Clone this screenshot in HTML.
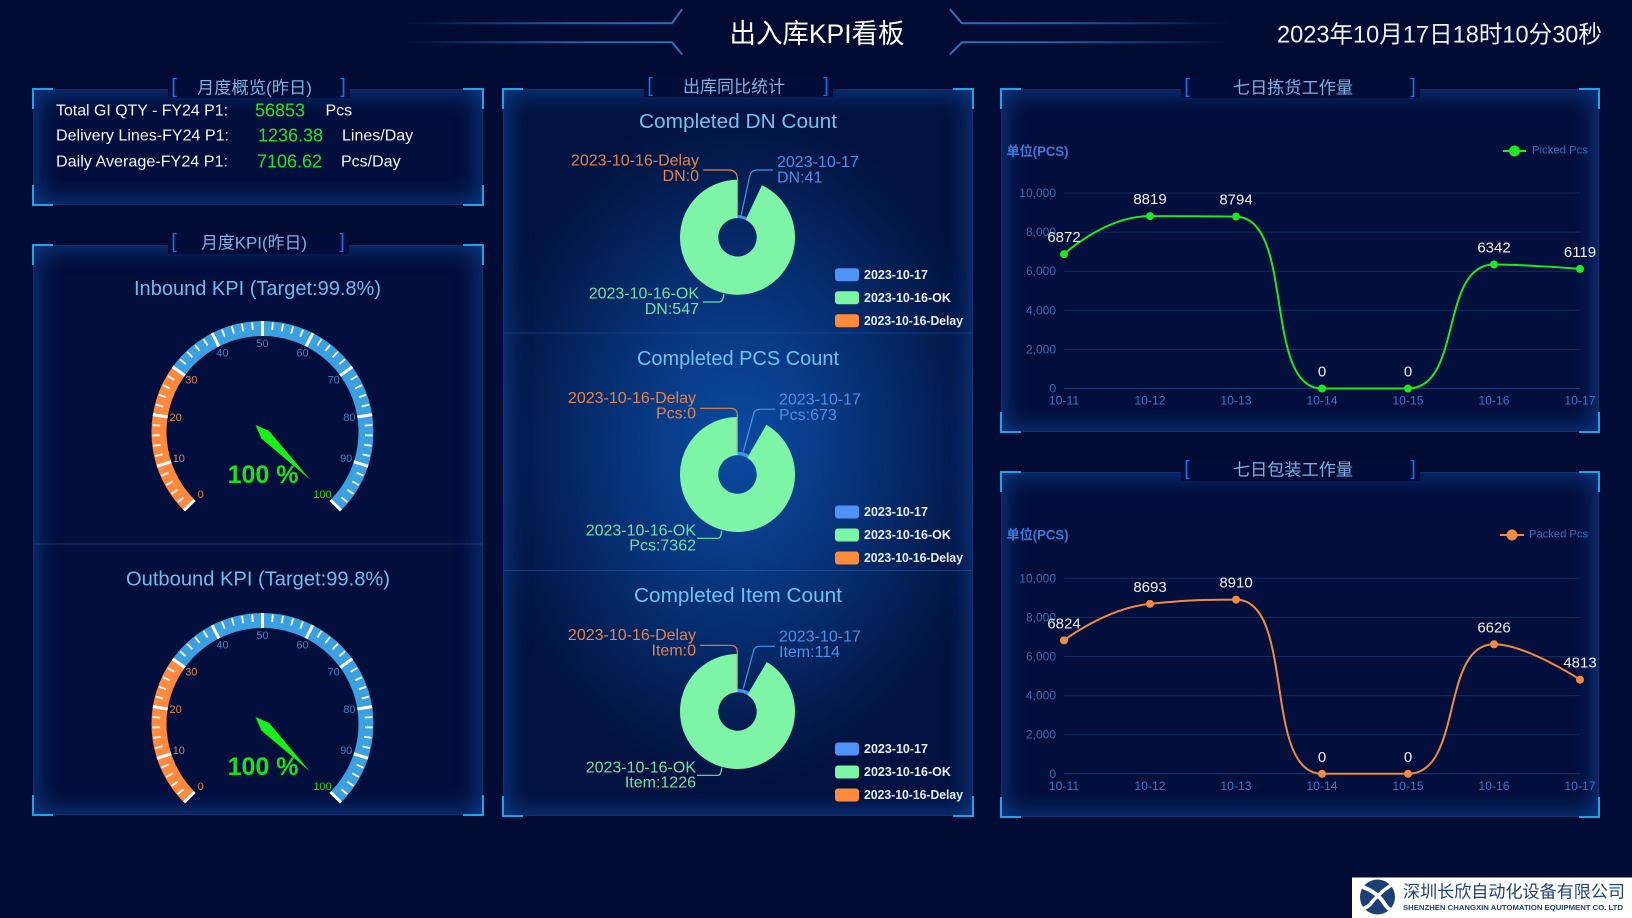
<!DOCTYPE html>
<html><head><meta charset="utf-8">
<style>
html,body{margin:0;padding:0;width:1632px;height:918px;overflow:hidden;background:#010b34;}
.p{position:absolute;box-sizing:border-box;border:1px solid rgba(40,110,200,0.35);box-shadow:inset 0 0 24px 2px rgba(25,105,215,0.5);background:#020e3c;}
svg{position:absolute;left:0;top:0;}
text{dominant-baseline:central;font-family:"Liberation Sans","Noto Sans CJK SC",sans-serif;}
</style></head><body>
<div class="p" style="left:33px;top:89px;width:450px;height:116px"></div>
<div class="p" style="left:33px;top:245px;width:450px;height:570px"></div>
<div class="p" style="left:503px;top:89px;width:470px;height:727px;background:radial-gradient(ellipse 260px 340px at 50% 49%,#0a4aa0 0%,#083c88 30%,#052a6a 60%,#031a4c 85%,#021240 100%)"></div>
<div class="p" style="left:1001px;top:89px;width:598px;height:343px"></div>
<div class="p" style="left:1001px;top:472px;width:598px;height:345px"></div>
<svg width="1632" height="918" viewBox="0 0 1632 918">
<defs>
<linearGradient id="hl" gradientUnits="userSpaceOnUse" x1="401" y1="0" x2="682" y2="0"><stop offset="0" stop-color="#24609c" stop-opacity="0"/><stop offset="0.6" stop-color="#24609c"/><stop offset="1" stop-color="#2e72b8"/></linearGradient>
<linearGradient id="hr" gradientUnits="userSpaceOnUse" x1="1233" y1="0" x2="950" y2="0"><stop offset="0" stop-color="#24609c" stop-opacity="0"/><stop offset="0.6" stop-color="#24609c"/><stop offset="1" stop-color="#2e72b8"/></linearGradient>
</defs>

<!-- header -->
<path d="M401,23.3 L672,23.3 L682,9.3 M401,42.3 L672,42.3 L682,54.3" fill="none" stroke="url(#hl)" stroke-width="2"/>
<path d="M1233,23.3 L962,23.3 L950,9.3 M1233,42.3 L962,42.3 L950,54.3" fill="none" stroke="url(#hr)" stroke-width="2"/>
<text x="817" y="34" text-anchor="middle" font-size="27" fill="#ffffff" textLength="175" lengthAdjust="spacingAndGlyphs">出入库KPI看板</text>
<text x="1277" y="35" font-size="24" fill="#eef3fa" textLength="325" lengthAdjust="spacingAndGlyphs">2023年10月17日18时10分30秒</text>

<!-- panel corners -->
<g fill="none" stroke="#20a2e6" stroke-width="2">
<path d="M33,109 L33,89 L53,89 M463,89 L483,89 L483,109 M33,185 L33,205 L53,205 M463,205 L483,205 L483,185"/>
<path d="M33,265 L33,245 L53,245 M463,245 L483,245 L483,265 M33,795 L33,815 L53,815 M463,815 L483,815 L483,795"/>
<path d="M503,109 L503,89 L523,89 M953,89 L973,89 L973,109 M503,796 L503,816 L523,816 M953,816 L973,816 L973,796"/>
<path d="M1001,109 L1001,89 L1021,89 M1579,89 L1599,89 L1599,109 M1001,412 L1001,432 L1021,432 M1579,432 L1599,432 L1599,412"/>
<path d="M1001,492 L1001,472 L1021,472 M1579,472 L1599,472 L1599,492 M1001,797 L1001,817 L1021,817 M1579,817 L1599,817 L1599,797"/>
</g>

<!-- title bars -->
<g fill="#020c38">
<rect x="168" y="78" width="182" height="20"/>
<rect x="168" y="234" width="181" height="20"/>
<rect x="644" y="77" width="189" height="20"/>
<rect x="1181" y="78" width="239" height="20"/>
<rect x="1181" y="461" width="239" height="20"/>
</g>
<g font-size="20" fill="#1a6ee8" text-anchor="middle">
<text x="174" y="87">[</text><text x="343" y="87">]</text>
<text x="174" y="242">[</text><text x="342" y="242">]</text>
<text x="650" y="86">[</text><text x="826" y="86">]</text>
<text x="1187" y="87">[</text><text x="1413" y="87">]</text>
<text x="1187" y="469">[</text><text x="1413" y="469">]</text>
</g>
<g font-size="17" fill="#7fb0e0" text-anchor="middle">
<text x="254.5" y="88" textLength="115" lengthAdjust="spacingAndGlyphs">月度概览(昨日)</text>
<text x="254" y="243" textLength="106" lengthAdjust="spacingAndGlyphs">月度KPI(昨日)</text>
<text x="734" y="87" textLength="102" lengthAdjust="spacingAndGlyphs">出库同比统计</text>
<text x="1293" y="88" textLength="120" lengthAdjust="spacingAndGlyphs">七日拣货工作量</text>
<text x="1293" y="470" textLength="120" lengthAdjust="spacingAndGlyphs">七日包装工作量</text>
</g>

<!-- panel 1 -->
<g font-size="16" fill="#f2f5fa">
<text x="56" y="111" textLength="172" lengthAdjust="spacingAndGlyphs">Total GI QTY - FY24 P1:</text>
<text x="56" y="136" textLength="173" lengthAdjust="spacingAndGlyphs">Delivery Lines-FY24 P1:</text>
<text x="56" y="162" textLength="172" lengthAdjust="spacingAndGlyphs">Daily Average-FY24 P1:</text>
<text x="325.5" y="111">Pcs</text>
<text x="342" y="136">Lines/Day</text>
<text x="341" y="162">Pcs/Day</text>
</g>
<g font-size="18" fill="#22e622">
<text x="255" y="110.5">56853</text>
<text x="258" y="135.5">1236.38</text>
<text x="257" y="161.5">7106.62</text>
</g>

<!-- panel 2 -->
<line x1="34" y1="544" x2="482" y2="544" stroke="rgba(50,110,190,0.35)" stroke-width="1"/>
<text x="257.5" y="289" text-anchor="middle" font-size="20" fill="#6dbdee" textLength="247" lengthAdjust="spacingAndGlyphs">Inbound KPI (Target:99.8%)</text>
<text x="258" y="579.3" text-anchor="middle" font-size="20" fill="#6dbdee" textLength="264" lengthAdjust="spacingAndGlyphs">Outbound KPI (Target:99.8%)</text>

<g transform="translate(262.5,432)">
<path d="M-73.19,73.19 A103.5,103.5 0 0 1 -83.73,-60.84" fill="none" stroke="#ff8a3d" stroke-width="15"/>
<path d="M-83.73,-60.84 A103.5,103.5 0 1 1 73.19,73.19" fill="none" stroke="#3aa0e0" stroke-width="15"/>
<g stroke="#ffffff" stroke-width="3">
<line x1="96" y1="0" x2="111" y2="0" transform="rotate(-225)"/><line x1="96" y1="0" x2="111" y2="0" transform="rotate(-198)"/><line x1="96" y1="0" x2="111" y2="0" transform="rotate(-171)"/><line x1="96" y1="0" x2="111" y2="0" transform="rotate(-144)"/><line x1="96" y1="0" x2="111" y2="0" transform="rotate(-117)"/><line x1="96" y1="0" x2="111" y2="0" transform="rotate(-90)"/><line x1="96" y1="0" x2="111" y2="0" transform="rotate(-63)"/><line x1="96" y1="0" x2="111" y2="0" transform="rotate(-36)"/><line x1="96" y1="0" x2="111" y2="0" transform="rotate(-9)"/><line x1="96" y1="0" x2="111" y2="0" transform="rotate(18)"/><line x1="96" y1="0" x2="111" y2="0" transform="rotate(45)"/>
</g>
<g stroke="#ffffff" stroke-width="1.8">
<line x1="102.5" y1="0" x2="110" y2="0" transform="rotate(-219.6)"/><line x1="102.5" y1="0" x2="110" y2="0" transform="rotate(-214.2)"/><line x1="102.5" y1="0" x2="110" y2="0" transform="rotate(-208.8)"/><line x1="102.5" y1="0" x2="110" y2="0" transform="rotate(-203.4)"/>
<line x1="102.5" y1="0" x2="110" y2="0" transform="rotate(-192.6)"/><line x1="102.5" y1="0" x2="110" y2="0" transform="rotate(-187.2)"/><line x1="102.5" y1="0" x2="110" y2="0" transform="rotate(-181.8)"/><line x1="102.5" y1="0" x2="110" y2="0" transform="rotate(-176.4)"/>
<line x1="102.5" y1="0" x2="110" y2="0" transform="rotate(-165.6)"/><line x1="102.5" y1="0" x2="110" y2="0" transform="rotate(-160.2)"/><line x1="102.5" y1="0" x2="110" y2="0" transform="rotate(-154.8)"/><line x1="102.5" y1="0" x2="110" y2="0" transform="rotate(-149.4)"/>
<line x1="102.5" y1="0" x2="110" y2="0" transform="rotate(-138.6)"/><line x1="102.5" y1="0" x2="110" y2="0" transform="rotate(-133.2)"/><line x1="102.5" y1="0" x2="110" y2="0" transform="rotate(-127.8)"/><line x1="102.5" y1="0" x2="110" y2="0" transform="rotate(-122.4)"/>
<line x1="102.5" y1="0" x2="110" y2="0" transform="rotate(-111.6)"/><line x1="102.5" y1="0" x2="110" y2="0" transform="rotate(-106.2)"/><line x1="102.5" y1="0" x2="110" y2="0" transform="rotate(-100.8)"/><line x1="102.5" y1="0" x2="110" y2="0" transform="rotate(-95.4)"/>
<line x1="102.5" y1="0" x2="110" y2="0" transform="rotate(-84.6)"/><line x1="102.5" y1="0" x2="110" y2="0" transform="rotate(-79.2)"/><line x1="102.5" y1="0" x2="110" y2="0" transform="rotate(-73.8)"/><line x1="102.5" y1="0" x2="110" y2="0" transform="rotate(-68.4)"/>
<line x1="102.5" y1="0" x2="110" y2="0" transform="rotate(-57.6)"/><line x1="102.5" y1="0" x2="110" y2="0" transform="rotate(-52.2)"/><line x1="102.5" y1="0" x2="110" y2="0" transform="rotate(-46.8)"/><line x1="102.5" y1="0" x2="110" y2="0" transform="rotate(-41.4)"/>
<line x1="102.5" y1="0" x2="110" y2="0" transform="rotate(-30.6)"/><line x1="102.5" y1="0" x2="110" y2="0" transform="rotate(-25.2)"/><line x1="102.5" y1="0" x2="110" y2="0" transform="rotate(-19.8)"/><line x1="102.5" y1="0" x2="110" y2="0" transform="rotate(-14.4)"/>
<line x1="102.5" y1="0" x2="110" y2="0" transform="rotate(-3.6)"/><line x1="102.5" y1="0" x2="110" y2="0" transform="rotate(1.8)"/><line x1="102.5" y1="0" x2="110" y2="0" transform="rotate(7.2)"/><line x1="102.5" y1="0" x2="110" y2="0" transform="rotate(12.6)"/>
<line x1="102.5" y1="0" x2="110" y2="0" transform="rotate(23.4)"/><line x1="102.5" y1="0" x2="110" y2="0" transform="rotate(28.8)"/><line x1="102.5" y1="0" x2="110" y2="0" transform="rotate(34.2)"/><line x1="102.5" y1="0" x2="110" y2="0" transform="rotate(39.6)"/>
</g>
<g font-size="11" text-anchor="middle">
<text x="-62" y="63" fill="#e0844d">0</text><text x="-83.7" y="27.2" fill="#e0844d">10</text><text x="-86.9" y="-13.8" fill="#e0844d">20</text><text x="-71.2" y="-51.7" fill="#e0844d">30</text>
<text x="-40" y="-78.4" fill="#3f82c2">40</text><text x="0" y="-88" fill="#3f82c2">50</text><text x="40" y="-78.4" fill="#3f82c2">60</text><text x="71.2" y="-51.7" fill="#3f82c2">70</text><text x="86.9" y="-13.8" fill="#3f82c2">80</text><text x="83.7" y="27.2" fill="#3f82c2">90</text>
<text x="60" y="63" fill="#1ed81e">100</text>
</g>
<polygon points="-10,0 4,-5.4 67,0 4,5.4" fill="#18f018" transform="rotate(45)"/>
<text x="0.5" y="43" text-anchor="middle" font-size="25" font-weight="bold" fill="#17e317">100 %</text>
</g>

<g transform="translate(262.5,724)">
<path d="M-73.19,73.19 A103.5,103.5 0 0 1 -83.73,-60.84" fill="none" stroke="#ff8a3d" stroke-width="15"/>
<path d="M-83.73,-60.84 A103.5,103.5 0 1 1 73.19,73.19" fill="none" stroke="#3aa0e0" stroke-width="15"/>
<g stroke="#ffffff" stroke-width="3">
<line x1="96" y1="0" x2="111" y2="0" transform="rotate(-225)"/><line x1="96" y1="0" x2="111" y2="0" transform="rotate(-198)"/><line x1="96" y1="0" x2="111" y2="0" transform="rotate(-171)"/><line x1="96" y1="0" x2="111" y2="0" transform="rotate(-144)"/><line x1="96" y1="0" x2="111" y2="0" transform="rotate(-117)"/><line x1="96" y1="0" x2="111" y2="0" transform="rotate(-90)"/><line x1="96" y1="0" x2="111" y2="0" transform="rotate(-63)"/><line x1="96" y1="0" x2="111" y2="0" transform="rotate(-36)"/><line x1="96" y1="0" x2="111" y2="0" transform="rotate(-9)"/><line x1="96" y1="0" x2="111" y2="0" transform="rotate(18)"/><line x1="96" y1="0" x2="111" y2="0" transform="rotate(45)"/>
</g>
<g stroke="#ffffff" stroke-width="1.8">
<line x1="102.5" y1="0" x2="110" y2="0" transform="rotate(-219.6)"/><line x1="102.5" y1="0" x2="110" y2="0" transform="rotate(-214.2)"/><line x1="102.5" y1="0" x2="110" y2="0" transform="rotate(-208.8)"/><line x1="102.5" y1="0" x2="110" y2="0" transform="rotate(-203.4)"/>
<line x1="102.5" y1="0" x2="110" y2="0" transform="rotate(-192.6)"/><line x1="102.5" y1="0" x2="110" y2="0" transform="rotate(-187.2)"/><line x1="102.5" y1="0" x2="110" y2="0" transform="rotate(-181.8)"/><line x1="102.5" y1="0" x2="110" y2="0" transform="rotate(-176.4)"/>
<line x1="102.5" y1="0" x2="110" y2="0" transform="rotate(-165.6)"/><line x1="102.5" y1="0" x2="110" y2="0" transform="rotate(-160.2)"/><line x1="102.5" y1="0" x2="110" y2="0" transform="rotate(-154.8)"/><line x1="102.5" y1="0" x2="110" y2="0" transform="rotate(-149.4)"/>
<line x1="102.5" y1="0" x2="110" y2="0" transform="rotate(-138.6)"/><line x1="102.5" y1="0" x2="110" y2="0" transform="rotate(-133.2)"/><line x1="102.5" y1="0" x2="110" y2="0" transform="rotate(-127.8)"/><line x1="102.5" y1="0" x2="110" y2="0" transform="rotate(-122.4)"/>
<line x1="102.5" y1="0" x2="110" y2="0" transform="rotate(-111.6)"/><line x1="102.5" y1="0" x2="110" y2="0" transform="rotate(-106.2)"/><line x1="102.5" y1="0" x2="110" y2="0" transform="rotate(-100.8)"/><line x1="102.5" y1="0" x2="110" y2="0" transform="rotate(-95.4)"/>
<line x1="102.5" y1="0" x2="110" y2="0" transform="rotate(-84.6)"/><line x1="102.5" y1="0" x2="110" y2="0" transform="rotate(-79.2)"/><line x1="102.5" y1="0" x2="110" y2="0" transform="rotate(-73.8)"/><line x1="102.5" y1="0" x2="110" y2="0" transform="rotate(-68.4)"/>
<line x1="102.5" y1="0" x2="110" y2="0" transform="rotate(-57.6)"/><line x1="102.5" y1="0" x2="110" y2="0" transform="rotate(-52.2)"/><line x1="102.5" y1="0" x2="110" y2="0" transform="rotate(-46.8)"/><line x1="102.5" y1="0" x2="110" y2="0" transform="rotate(-41.4)"/>
<line x1="102.5" y1="0" x2="110" y2="0" transform="rotate(-30.6)"/><line x1="102.5" y1="0" x2="110" y2="0" transform="rotate(-25.2)"/><line x1="102.5" y1="0" x2="110" y2="0" transform="rotate(-19.8)"/><line x1="102.5" y1="0" x2="110" y2="0" transform="rotate(-14.4)"/>
<line x1="102.5" y1="0" x2="110" y2="0" transform="rotate(-3.6)"/><line x1="102.5" y1="0" x2="110" y2="0" transform="rotate(1.8)"/><line x1="102.5" y1="0" x2="110" y2="0" transform="rotate(7.2)"/><line x1="102.5" y1="0" x2="110" y2="0" transform="rotate(12.6)"/>
<line x1="102.5" y1="0" x2="110" y2="0" transform="rotate(23.4)"/><line x1="102.5" y1="0" x2="110" y2="0" transform="rotate(28.8)"/><line x1="102.5" y1="0" x2="110" y2="0" transform="rotate(34.2)"/><line x1="102.5" y1="0" x2="110" y2="0" transform="rotate(39.6)"/>
</g>
<g font-size="11" text-anchor="middle">
<text x="-62" y="63" fill="#e0844d">0</text><text x="-83.7" y="27.2" fill="#e0844d">10</text><text x="-86.9" y="-13.8" fill="#e0844d">20</text><text x="-71.2" y="-51.7" fill="#e0844d">30</text>
<text x="-40" y="-78.4" fill="#3f82c2">40</text><text x="0" y="-88" fill="#3f82c2">50</text><text x="40" y="-78.4" fill="#3f82c2">60</text><text x="71.2" y="-51.7" fill="#3f82c2">70</text><text x="86.9" y="-13.8" fill="#3f82c2">80</text><text x="83.7" y="27.2" fill="#3f82c2">90</text>
<text x="60" y="63" fill="#1ed81e">100</text>
</g>
<polygon points="-10,0 4,-5.4 67,0 4,5.4" fill="#18f018" transform="rotate(45)"/>
<text x="0.5" y="43" text-anchor="middle" font-size="25" font-weight="bold" fill="#17e317">100 %</text>
</g>

<!-- middle panel -->
<g stroke="rgba(60,120,200,0.35)" stroke-width="1">
<line x1="504" y1="333" x2="972" y2="333"/>
<line x1="504" y1="570.5" x2="972" y2="570.5"/>
</g>
<g font-size="20.5" fill="#70c2f0" text-anchor="middle">
<text x="738" y="121.5" textLength="198" lengthAdjust="spacingAndGlyphs">Completed DN Count</text>
<text x="738" y="358.5" textLength="202" lengthAdjust="spacingAndGlyphs">Completed PCS Count</text>
<text x="738" y="595.5" textLength="208" lengthAdjust="spacingAndGlyphs">Completed Item Count</text>
</g>

<!-- donut 1 -->
<path d="M761.89,185.23 A57.5,57.5 0 1 1 737.5,179.8 L737.5,218.1 A19.2,19.2 0 1 0 745.64,219.91 Z" fill="#7df4a6"/>
<path d="M737.5,215.23 A22.07,22.07 0 0 1 746.86,217.31 L745.64,219.91 A19.2,19.2 0 0 0 737.5,218.1 Z" fill="#4a90f0"/>
<g fill="none" stroke-width="1.2">
<path d="M703,170 L729,170 Q737.5,170 737.5,180 L737.5,216" stroke="#e4834a"/>
<path d="M773,170 L757,170 Q751,170 749.5,177 L741,216" stroke="#4f8fe6"/>
<path d="M703,302 L719,302 Q723,302 724,294" stroke="#74e0a2"/>
</g>
<g font-size="16">
<text x="699" y="161" text-anchor="end" fill="#e4834a">2023-10-16-Delay</text>
<text x="699" y="176.5" text-anchor="end" fill="#e4834a">DN:0</text>
<text x="777" y="162.5" fill="#4f8fe6">2023-10-17</text>
<text x="777" y="178" fill="#4f8fe6">DN:41</text>
<text x="699" y="294" text-anchor="end" fill="#74e0a2">2023-10-16-OK</text>
<text x="699" y="309.5" text-anchor="end" fill="#74e0a2">DN:547</text>
</g>

<!-- donut 2 -->
<path d="M766.38,424.78 A57.5,57.5 0 1 1 737.5,417 L737.5,455.3 A19.2,19.2 0 1 0 747.14,457.9 Z" fill="#7df4a6"/>
<path d="M737.5,451.8 A22.7,22.7 0 0 1 748.9,454.87 L747.14,457.9 A19.2,19.2 0 0 0 737.5,455.3 Z" fill="#4a90f0"/>
<g fill="none" stroke-width="1.2">
<path d="M700,408.3 L730,408.3 Q737.3,408.3 737.3,415 L737.3,451.7" stroke="#e4834a"/>
<path d="M775,409.3 L760,409.3 Q754,409.3 753.3,415 L743.3,451.7" stroke="#4f8fe6"/>
<path d="M697,538.3 L718.3,538.3 Q721,538.3 721.7,530.7" stroke="#74e0a2"/>
</g>
<g font-size="16">
<text x="696" y="398.5" text-anchor="end" fill="#e4834a">2023-10-16-Delay</text>
<text x="696" y="414" text-anchor="end" fill="#e4834a">Pcs:0</text>
<text x="779" y="400" fill="#4f8fe6">2023-10-17</text>
<text x="779" y="415.5" fill="#4f8fe6">Pcs:673</text>
<text x="696" y="531" text-anchor="end" fill="#74e0a2">2023-10-16-OK</text>
<text x="696" y="546" text-anchor="end" fill="#74e0a2">Pcs:7362</text>
</g>

<!-- donut 3 -->
<path d="M766.8,662.02 A57.5,57.5 0 1 1 737.5,654 L737.5,692.3 A19.2,19.2 0 1 0 747.28,694.98 Z" fill="#7df4a6"/>
<path d="M737.5,688.74 A22.76,22.76 0 0 1 749.1,691.91 L747.28,694.98 A19.2,19.2 0 0 0 737.5,692.3 Z" fill="#4a90f0"/>
<g fill="none" stroke-width="1.2">
<path d="M700,645.3 L730,645.3 Q737.3,645.3 737.3,652 L737.3,688.7" stroke="#e4834a"/>
<path d="M775,646.3 L760,646.3 Q754,646.3 753.3,652 L743.3,688.7" stroke="#4f8fe6"/>
<path d="M697,775.3 L718.3,775.3 Q721,775.3 721.7,767.7" stroke="#74e0a2"/>
</g>
<g font-size="16">
<text x="696" y="635.5" text-anchor="end" fill="#e4834a">2023-10-16-Delay</text>
<text x="696" y="651" text-anchor="end" fill="#e4834a">Item:0</text>
<text x="779" y="637" fill="#4f8fe6">2023-10-17</text>
<text x="779" y="652.5" fill="#4f8fe6">Item:114</text>
<text x="696" y="768" text-anchor="end" fill="#74e0a2">2023-10-16-OK</text>
<text x="696" y="783" text-anchor="end" fill="#74e0a2">Item:1226</text>
</g>

<!-- donut legends -->
<g>
<rect x="835" y="268.3" width="24" height="13" rx="3" fill="#4f93f7"/>
<rect x="835" y="291.3" width="24" height="13" rx="3" fill="#7cf5a5"/>
<rect x="835" y="314.3" width="24" height="13" rx="3" fill="#ff8a3a"/>
<rect x="835" y="505.5" width="24" height="13" rx="3" fill="#4f93f7"/>
<rect x="835" y="528.5" width="24" height="13" rx="3" fill="#7cf5a5"/>
<rect x="835" y="551.5" width="24" height="13" rx="3" fill="#ff8a3a"/>
<rect x="835" y="742.5" width="24" height="13" rx="3" fill="#4f93f7"/>
<rect x="835" y="765.5" width="24" height="13" rx="3" fill="#7cf5a5"/>
<rect x="835" y="788.5" width="24" height="13" rx="3" fill="#ff8a3a"/>
</g>
<g font-size="12.5" font-weight="bold" fill="#e6edf5">
<text x="864" y="274.8">2023-10-17</text>
<text x="864" y="297.8">2023-10-16-OK</text>
<text x="864" y="320.8" textLength="99" lengthAdjust="spacingAndGlyphs">2023-10-16-Delay</text>
<text x="864" y="512">2023-10-17</text>
<text x="864" y="535">2023-10-16-OK</text>
<text x="864" y="558" textLength="99" lengthAdjust="spacingAndGlyphs">2023-10-16-Delay</text>
<text x="864" y="749">2023-10-17</text>
<text x="864" y="772">2023-10-16-OK</text>
<text x="864" y="795" textLength="99" lengthAdjust="spacingAndGlyphs">2023-10-16-Delay</text>
</g>

<!-- chart 1 -->
<text x="1006.5" y="151.5" font-size="13.5" font-weight="bold" fill="#3a7ad8" textLength="62" lengthAdjust="spacingAndGlyphs">单位(PCS)</text>
<line x1="1503" y1="151" x2="1526" y2="151" stroke="#1ee81e" stroke-width="2"/>
<circle cx="1514.5" cy="151" r="5.5" fill="#1ee81e"/>
<text x="1532" y="150.5" font-size="11.3" fill="#3d6fb5">Picked Pcs</text>
<g transform="translate(0,0.5)">
<g stroke="#102c5e" stroke-width="1">
<line x1="1064" y1="192.5" x2="1580" y2="192.5"/><line x1="1064" y1="231.6" x2="1580" y2="231.6"/><line x1="1064" y1="270.7" x2="1580" y2="270.7"/><line x1="1064" y1="309.8" x2="1580" y2="309.8"/><line x1="1064" y1="348.9" x2="1580" y2="348.9"/><line x1="1064" y1="388" x2="1580" y2="388" stroke="#163a72"/>
</g>
<g font-size="12" fill="#3a6cb0" text-anchor="end">
<text x="1056" y="192.5">10,000</text><text x="1056" y="231.6">8,000</text><text x="1056" y="270.7">6,000</text><text x="1056" y="309.8">4,000</text><text x="1056" y="348.9">2,000</text><text x="1056" y="388">0</text>
</g>
<g font-size="12.2" fill="#3b78c8" text-anchor="middle">
<text x="1064" y="400">10-11</text><text x="1150" y="400">10-12</text><text x="1236" y="400">10-13</text><text x="1322" y="400">10-14</text><text x="1408" y="400">10-15</text><text x="1494" y="400">10-16</text><text x="1580" y="400">10-17</text>
</g>
<path d="M1064,253.65 C1064,253.65 1105.07,215.59 1150,215.59 C1191.08,215.59 1209.42,215.59 1236,216.08 C1295.41,217.18 1262.59,388 1322,388 C1348.58,388 1376.78,388 1408,388 C1462.78,388 1439.26,264.01 1494,264.01 C1525.24,264.01 1580,268.37 1580,268.37" fill="none" stroke="#1ee81e" stroke-width="2"/>
<g fill="#1ee81e">
<circle cx="1064" cy="253.65" r="4"/><circle cx="1150" cy="215.59" r="4"/><circle cx="1236" cy="216.08" r="4"/><circle cx="1322" cy="388" r="4"/><circle cx="1408" cy="388" r="4"/><circle cx="1494" cy="264.01" r="4"/><circle cx="1580" cy="268.37" r="4"/>
</g>
<g font-size="15" fill="#f0f0f0" text-anchor="middle">
<text x="1064" y="237.2">6872</text><text x="1150" y="199.1">8819</text><text x="1236" y="199.6">8794</text><text x="1322" y="371.5">0</text><text x="1408" y="371.5">0</text><text x="1494" y="247.5">6342</text><text x="1580" y="251.9">6119</text>
</g>
</g>

<!-- chart 2 -->
<text x="1006.5" y="535" font-size="13.5" font-weight="bold" fill="#3a7ad8" textLength="62" lengthAdjust="spacingAndGlyphs">单位(PCS)</text>
<line x1="1500" y1="535" x2="1524" y2="535" stroke="#f08a40" stroke-width="2"/>
<circle cx="1512" cy="535" r="5.5" fill="#f08a40"/>
<text x="1529" y="534.5" font-size="11.2" fill="#3d6fb5">Packed Pcs</text>
<g transform="translate(0,1.8)">
<g stroke="#102c5e" stroke-width="1">
<line x1="1064" y1="576.5" x2="1580" y2="576.5"/><line x1="1064" y1="615.6" x2="1580" y2="615.6"/><line x1="1064" y1="654.7" x2="1580" y2="654.7"/><line x1="1064" y1="693.8" x2="1580" y2="693.8"/><line x1="1064" y1="732.9" x2="1580" y2="732.9"/><line x1="1064" y1="772" x2="1580" y2="772" stroke="#163a72"/>
</g>
<g font-size="12" fill="#3a6cb0" text-anchor="end">
<text x="1056" y="576.5">10,000</text><text x="1056" y="615.6">8,000</text><text x="1056" y="654.7">6,000</text><text x="1056" y="693.8">4,000</text><text x="1056" y="732.9">2,000</text><text x="1056" y="772">0</text>
</g>
<g font-size="12.2" fill="#3b78c8" text-anchor="middle">
<text x="1064" y="784">10-11</text><text x="1150" y="784">10-12</text><text x="1236" y="784">10-13</text><text x="1322" y="784">10-14</text><text x="1408" y="784">10-15</text><text x="1494" y="784">10-16</text><text x="1580" y="784">10-17</text>
</g>
<path d="M1064,638.59 C1064,638.59 1105.23,606.65 1150,602.05 C1191.25,597.81 1209.59,597.81 1236,597.81 C1295.59,597.81 1262.39,772 1322,772 C1348.39,772 1377.38,772 1408,772 C1463.36,772 1440.19,642.46 1494,642.46 C1526.19,642.46 1580,677.91 1580,677.91" fill="none" stroke="#f08a40" stroke-width="2"/>
<g fill="#f08a40">
<circle cx="1064" cy="638.59" r="4"/><circle cx="1150" cy="602.05" r="4"/><circle cx="1236" cy="597.81" r="4"/><circle cx="1322" cy="772" r="4"/><circle cx="1408" cy="772" r="4"/><circle cx="1494" cy="642.46" r="4"/><circle cx="1580" cy="677.91" r="4"/>
</g>
<g font-size="15" fill="#f0f0f0" text-anchor="middle">
<text x="1064" y="622.1">6824</text><text x="1150" y="585.5">8693</text><text x="1236" y="581.3">8910</text><text x="1322" y="755.5">0</text><text x="1408" y="755.5">0</text><text x="1494" y="626">6626</text><text x="1580" y="661.4">4813</text>
</g>
</g>

<!-- logo -->
<rect x="1352" y="877.5" width="280" height="40.5" fill="#ffffff"/>
<circle cx="1377.5" cy="897" r="17.5" fill="#1c3f75"/>
<path d="M1363,887 Q1378,893 1384,903 Q1388,910 1394,911" fill="none" stroke="#ffffff" stroke-width="4"/>
<path d="M1393,884 Q1380,892 1372,902 Q1368,908 1361,909" fill="none" stroke="#ffffff" stroke-width="3.5"/>
<text x="1403" y="892" font-size="17" fill="#21427a" textLength="222" lengthAdjust="spacingAndGlyphs">深圳长欣自动化设备有限公司</text>
<text x="1403" y="907.5" font-size="7.5" font-weight="bold" fill="#21427a" textLength="220" lengthAdjust="spacingAndGlyphs">SHENZHEN CHANGXIN AUTOMATION EQUIPMENT CO. LTD</text>
</svg>
</body></html>
